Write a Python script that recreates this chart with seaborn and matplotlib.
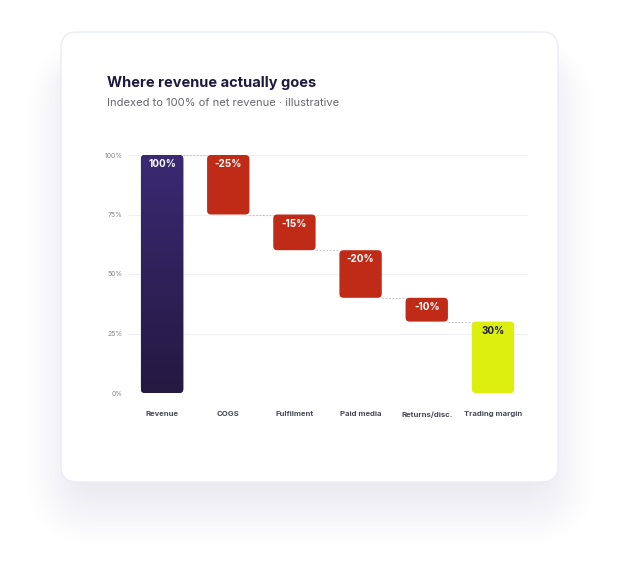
import numpy as np
import pandas as pd
import matplotlib
matplotlib.use("Agg")
import matplotlib.pyplot as plt
from matplotlib.patches import FancyBboxPatch
import seaborn as sns

# ---- data ----
categories = ["Revenue", "COGS", "Fulfilment", "Paid media", "Returns/disc.", "Trading margin"]
changes = [100, -25, -15, -20, -10, 30]
kinds = ["total", "cost", "cost", "cost", "cost", "margin"]
value_labels = ["100%", "-25%", "-15%", "-20%", "-10%", "30%"]
y_ticks = [0, 25, 50, 75, 100]
y_tick_labels = ["0%", "25%", "50%", "75%", "100%"]
title = "Where revenue actually goes"
subtitle = "Indexed to 100% of net revenue · illustrative"

# running totals -> bottoms / tops
bottoms, tops, levels = [], [], []
running = 0
for c, k in zip(changes, kinds):
    if k in ("total", "margin"):
        b, t = 0, c
        running = c
    else:
        t = running
        b = running + c
        running = b
    bottoms.append(b)
    tops.append(t)
    levels.append(running)

df = pd.DataFrame({"category": categories, "top": tops, "kind": kinds})

sns.set_theme(style="white")
plt.rcParams["font.family"] = ["Inter", "DejaVu Sans"]

W, H = 620, 572
fig = plt.figure(figsize=(W / 100, H / 100), dpi=100)
fig.patch.set_facecolor("white")

# ---- background: shadow + card ----
bg = fig.add_axes([0, 0, 1, 1])
bg.set_xlim(0, W)
bg.set_ylim(H, 0)
bg.axis("off")

card = (61, 32, 558, 482)
yy, xx = np.mgrid[0:H, 0:W]
def rounded_mask(x0, y0, x1, y1, r):
    dx = np.maximum(np.maximum(x0 + r - xx, xx - (x1 - r)), 0)
    dy = np.maximum(np.maximum(y0 + r - yy, yy - (y1 - r)), 0)
    return (np.hypot(dx, dy) <= r).astype(float)
def blur1d(a, sigma, axis):
    rad = int(sigma * 3)
    k = np.exp(-0.5 * (np.arange(-rad, rad + 1) / sigma) ** 2)
    k /= k.sum()
    return np.apply_along_axis(lambda v: np.convolve(v, k, mode="same"), axis, a)
m1 = rounded_mask(42, 58, 578, 528, 40)
m1 = blur1d(blur1d(m1, 11, 0), 11, 1)
m2 = rounded_mask(card[0] + 6, card[1] + 20, card[2] - 6, card[3] + 18, 20)
m2 = blur1d(blur1d(m2, 12, 0), 12, 1)
alpha = 1 - (1 - m1 * 0.055) * (1 - m2 * 0.07)
shadow = np.zeros((H, W, 4))
shadow[..., 0] = 0.32
shadow[..., 1] = 0.30
shadow[..., 2] = 0.55
shadow[..., 3] = alpha
bg.imshow(shadow, extent=(0, W, H, 0), interpolation="bilinear", zorder=0)
bg.add_patch(FancyBboxPatch((card[0], card[1]), card[2] - card[0], card[3] - card[1],
                            boxstyle="round,pad=0,rounding_size=16",
                            facecolor="white", edgecolor="#ecebf7", lw=1.0, zorder=1))

fig.text(107 / W, 1 - 83 / H, title, fontsize=10.5, fontweight="bold",
         color="#1d1a3d", va="center", ha="left")
fig.text(107 / W, 1 - 103 / H, subtitle, fontsize=8, color="#66666f",
         va="center", ha="left")

# ---- chart ----
ax = fig.add_axes([128 / W, 1 - 393 / H, 400 / W, 238 / H])
ax.set_facecolor("none")
palette = {"total": "#2f2362", "cost": "#bf2b17", "margin": "#dcef0e"}
sns.barplot(data=df, x="category", y="top", hue="kind", palette=palette,
            order=categories, hue_order=["total", "cost", "margin"],
            dodge=False, width=0.64, legend=False, ax=ax, saturation=1)
ax.set_xlim(-0.515, 5.53)
ax.set_ylim(0, 100)
fig.canvas.draw()

# px per unit
p0 = ax.transData.transform((0, 0))
p1 = ax.transData.transform((1, 1))
px_x = (p1[0] - p0[0])
px_y = (p1[1] - p0[1])
aspect = px_x / px_y
r_px = 4.0

bar_geo = {}
for patch in list(ax.patches):
    x, w = patch.get_x(), patch.get_width()
    if w == 0 or np.isnan(patch.get_height()):
        patch.remove()
        continue
    i = int(round(x + w / 2))
    fc = patch.get_facecolor()
    patch.remove()
    b, t = bottoms[i], tops[i]
    fb = FancyBboxPatch((x, b), w, t - b,
                        boxstyle=f"round,pad=0,rounding_size={r_px / px_x}",
                        mutation_aspect=aspect, facecolor=fc, edgecolor="none", zorder=3)
    ax.add_patch(fb)
    bar_geo[i] = (x, w)
    if kinds[i] == "total":
        grad = np.linspace(0, 1, 256)[:, None]
        top_c = np.array(matplotlib.colors.to_rgb("#3a2a73"))
        bot_c = np.array(matplotlib.colors.to_rgb("#231941"))
        img = top_c[None, None, :] * (1 - grad[..., None]) + bot_c[None, None, :] * grad[..., None]
        im = ax.imshow(img, extent=(x, x + w, b, t), aspect="auto", zorder=3.5,
                       origin="upper", interpolation="bilinear")
        im.set_clip_path(fb)

# connectors
for i in range(len(categories) - 1):
    x0, w0 = bar_geo[i]
    x1, _ = bar_geo[i + 1]
    ax.plot([x0 + w0, x1], [levels[i], levels[i]], color="#c4c4cf", lw=0.8,
            ls=(0, (1.5, 1.5)), zorder=2)

# value labels
for i, lab in enumerate(value_labels):
    col = "#1d1a3d" if kinds[i] == "margin" else "white"
    ax.text(i, tops[i] - 9 / px_y, lab, ha="center", va="center", fontsize=7.2,
            fontweight="bold", color=col, zorder=5)

ax.set_ylim(0, 100)
ax.set_xlim(-0.515, 5.53)
ax.set_yticks(y_ticks)
ax.set_yticklabels(y_tick_labels)
ax.set_xticks(range(len(categories)))
ax.set_xticklabels(categories, fontsize=5.6, fontweight="bold", color="#4a4a55")
ax.grid(axis="y", color="#efeff5", lw=0.8, zorder=0)
ax.set_axisbelow(True)
ax.tick_params(axis="y", length=0, pad=4, labelsize=5, labelcolor="#85858f")
ax.tick_params(axis="x", length=0, pad=13)
ax.set_xlabel("")
ax.set_ylabel("")
for s in ax.spines.values():
    s.set_visible(False)

fig.savefig("out.png", dpi=100)
